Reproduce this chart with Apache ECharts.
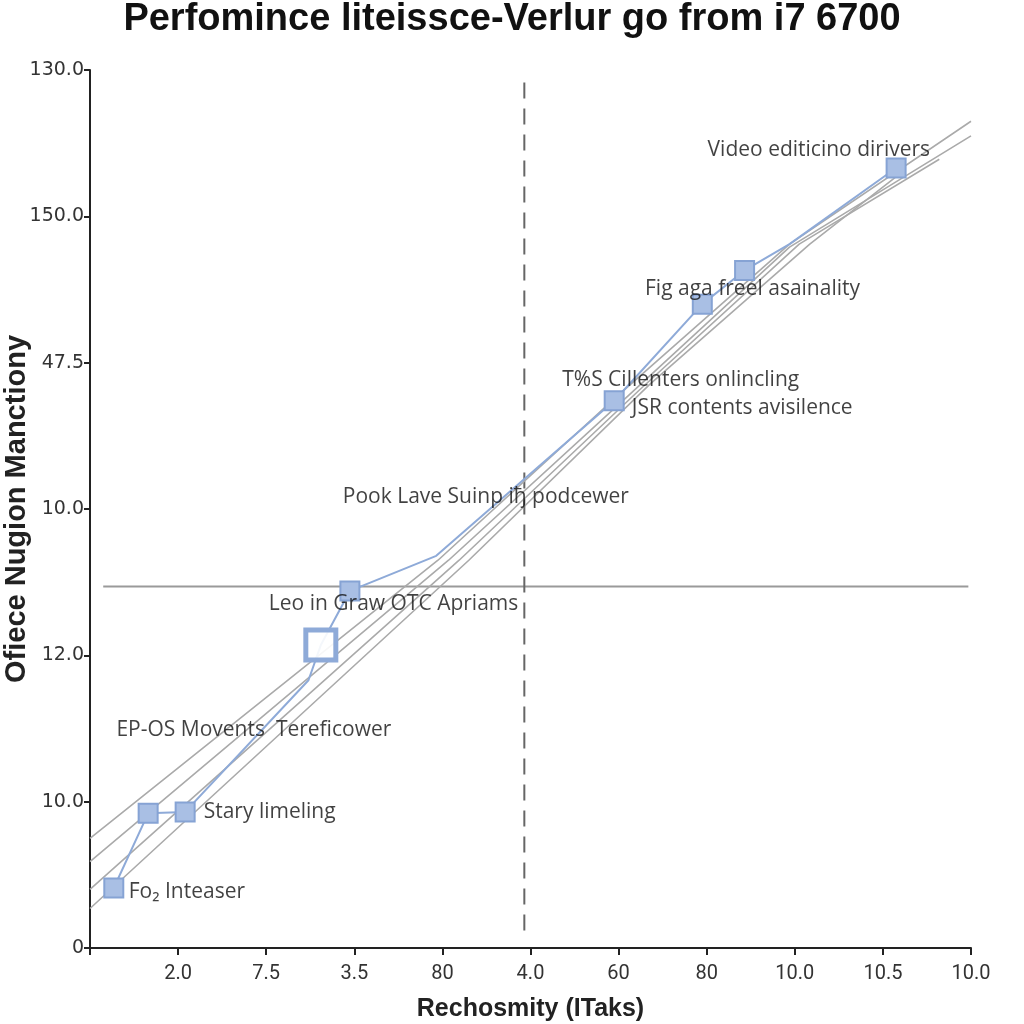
<!DOCTYPE html>
<html>
<head>
<meta charset="utf-8">
<script src="https://cdn.jsdelivr.net/npm/echarts@6/dist/echarts.min.js"></script>
<style>html,body{margin:0;padding:0;background:#fff}#c{width:1024px;height:1024px}</style>
</head>
<body>
<div id="c"></div>
<script>
// Tick labels (as printed on the chart)
const xTickLabels = ['', '2.0', '7.5', '3.5', '80', '4.0', '60', '80', '10.0', '10.5', '10.0'];
const yTickLabels = ['0', '10.0', '12.0', '10.0', '47.5', '150.0', '130.0'];

// Gray trend lines [x, y] in axis units
const grayLine1 = [[0.0, 0.75], [3.95, 2.65], [6.0, 3.78], [7.94, 4.81], [10.0, 5.65]];
const grayLine2 = [[0.0, 0.59], [4.07, 2.65], [6.12, 3.78], [7.94, 4.79], [10.0, 5.55]];
const grayLine3 = [[0.0, 0.40], [4.19, 2.65], [6.23, 3.81], [8.05, 4.81], [9.64, 5.39]];
const grayLine4 = [[0.0, 0.27], [4.3, 2.65], [6.35, 3.85], [8.17, 4.81], [9.17, 5.28]];

// Blue series points [x, y]
const blueX = [0.27, 0.66, 1.08, 2.48, 2.62, 2.95, 3.93, 5.95, 6.95, 7.43, 7.94, 9.15];
const blueY = [0.41, 0.92, 0.93, 1.83, 2.07, 2.44, 2.68, 3.74, 4.40, 4.63, 4.81, 5.33];
const blueMarker = [1, 1, 1, 0, 2, 1, 0, 1, 1, 1, 0, 1];

// Reference lines
const hLineY = 2.47;
const hLineX = [0.15, 9.97];
const vLineX = 4.93;
const vLineY = [0.12, 5.93];

// Annotations
const noteText = ['Video editicino dirivers', 'Fig aga freel asainality', 'T%S Cillenters onlincling',
  'JSR contents avisilence', 'Pook Lave Suinp iђ podcewer', 'Leo in Graw OTC Apriams',
  'EP-OS Movents  Tereficower', 'Stary limeling', 'Fo₂ Inteaser'];
const noteX = [7.01, 6.30, 5.36, 6.15, 2.87, 2.03, 0.30, 1.29, 0.44];
const noteY = [5.45, 4.50, 3.88, 3.69, 3.08, 2.35, 1.49, 0.93, 0.38];

const chart = echarts.init(document.getElementById('c'));
const grayStyle = { color: '#aaaaaa', width: 1.6 };
function grayLine(d) {
  return { type: 'line', data: d, symbol: 'none', lineStyle: grayStyle, silent: true, z: 2 };
}
const blueData = blueX.map((x, i) => {
  const m = blueMarker[i];
  return {
    value: [x, blueY[i]],
    symbol: 'rect',
    symbolSize: m === 0 ? 0 : (m === 2 ? 30 : 19),
    itemStyle: m === 2
      ? { color: 'rgba(255,255,255,0.9)', borderColor: '#8eaad8', borderWidth: 5 }
      : { color: '#a9bfe4', borderColor: '#86a3d4', borderWidth: 2 }
  };
});
const noteData = noteText.map((t, i) => ({ value: [noteX[i], noteY[i]], name: t }));

chart.setOption({
  animation: false,
  backgroundColor: '#ffffff',
  title: {
    text: 'Perfomince liteissce-Verlur go from i7 6700',
    left: 'center', top: -4,
    textStyle: { fontFamily: 'Liberation Sans', fontWeight: 'bold', fontSize: 38, color: '#111' }
  },
  grid: { left: 90, right: 53, top: 70, bottom: 76, containLabel: false, outerBoundsMode: 'none' },
  xAxis: {
    type: 'value', min: 0, max: 10, interval: 1,
    name: 'Rechosmity (ITaks)', nameLocation: 'middle', nameGap: 49, nameMoveOverlap: false,
    nameTextStyle: { fontFamily: 'Liberation Sans', fontWeight: 'bold', fontSize: 25, color: '#222' },
    axisLine: { lineStyle: { color: '#222', width: 2 } },
    axisTick: { show: true, length: 7, lineStyle: { color: '#222', width: 2 } },
    axisLabel: { margin: 16, fontFamily: 'Liberation Sans Narrow, Roboto', fontSize: 20, color: '#333',
      formatter: v => xTickLabels[Math.round(v)] || '' },
    splitLine: { show: false }
  },
  yAxis: {
    type: 'value', min: 0, max: 6, interval: 1,
    name: 'Ofiece Nugion Manctiony', nameLocation: 'middle', nameGap: 59, nameRotate: 90, nameMoveOverlap: false,
    nameTextStyle: { fontFamily: 'Liberation Sans', fontWeight: 'bold', fontSize: 29, color: '#222' },
    axisLine: { show: true, lineStyle: { color: '#222', width: 2 } },
    axisTick: { show: true, length: 6, lineStyle: { color: '#222', width: 2 } },
    axisLabel: { margin: 6, fontFamily: 'DejaVu Sans', fontSize: 19, color: '#333',
      formatter: v => yTickLabels[Math.round(v)] },
    splitLine: { show: false }
  },
  series: [
    grayLine(grayLine1), grayLine(grayLine2), grayLine(grayLine3), grayLine(grayLine4),
    { type: 'line', data: [[hLineX[0], hLineY], [hLineX[1], hLineY]], symbol: 'none',
      lineStyle: { color: '#9a9a9a', width: 2 }, z: 1 },
    { type: 'line', data: [[vLineX, vLineY[0]], [vLineX, vLineY[1]]], symbol: 'none',
      lineStyle: { color: '#666', width: 2, type: [16, 10] }, z: 1 },
    { type: 'line', data: blueData, lineStyle: { color: '#8eaad8', width: 2 }, z: 3 },
    { type: 'scatter', data: noteData, symbolSize: 0, z: 5,
      label: { show: true, position: 'right', distance: 0, formatter: p => p.name,
        fontFamily: 'Open Sans', fontSize: 21, color: '#111' } }
  ]
});
</script>
</body>
</html>
